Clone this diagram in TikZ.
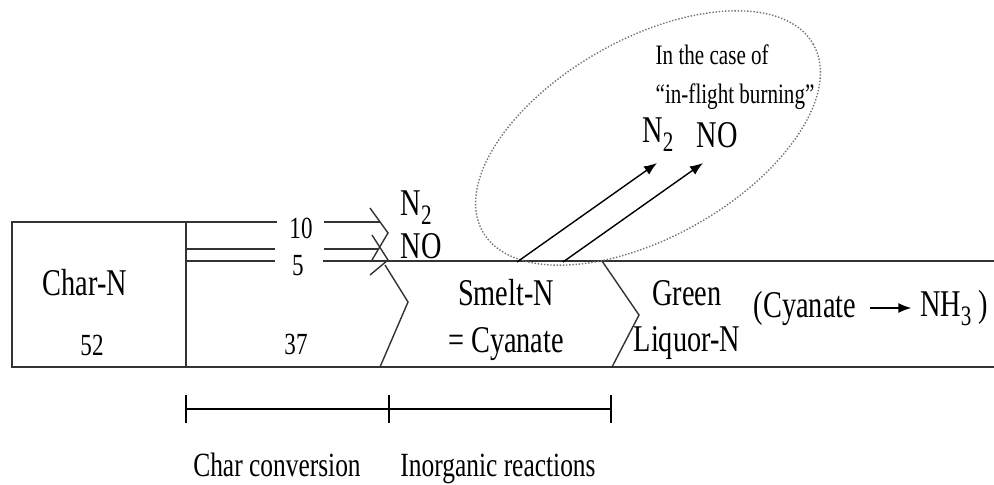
\documentclass[tikz,border=0pt]{standalone}
\usepackage{fontspec}
\setmainfont{Liberation Serif}[FakeStretch=0.75]
\usetikzlibrary{arrows.meta}

\newcommand{\bigtxt}{\fontsize{21.5}{26.6}\selectfont}
\newcommand{\numtxt}{\fontsize{17.5}{20}\selectfont}
\newcommand{\captxt}{\fontsize{16}{22.5}\selectfont}
\newcommand{\bartxt}{\fontsize{19.3}{23}\selectfont}
\newcommand{\subs}[1]{\raisebox{-5pt}{\fontsize{16}{16}\selectfont #1}}

\begin{document}
\begin{tikzpicture}[x=0.02cm,y=0.02cm,>={Latex[length=0.26cm,width=0.2cm]},
    line width=0.8pt,
    flow/.style={black!80},
    lab/.style={inner sep=0pt,font=\bigtxt,align=center},
    num/.style={inner sep=0pt,font=\numtxt}]
    \useasboundingbox (0,0) rectangle (994,484);

    % char box and band
    \draw[flow] (12,117) rectangle (186,262);
    \draw[flow] (186,117) -- (994,117);
    \draw[flow] (186,262) -- (277,262) (324,262) -- (380,262);
    \draw[flow] (186,235) -- (275,235) (324,235) -- (378,235);
    \draw[flow] (186,223) -- (275,223) (323,223) -- (994,223);

    % chevrons
    \draw[flow] (370,276) -- (388,251) -- (372,224);
    \draw[flow] (372,249) -- (388,224) -- (370,209);
    \draw[flow] (385,219) -- (408,182) -- (380,117);
    \draw[flow] (602,223) -- (639,169) -- (612,117);

    \node[lab] (charn) at (85,201) {Char-N};
    \node[num] (n52) at (92,139) {52};
    \node[num] (n10) at (301,256) {10};
    \node[num] (n5) at (298,218) {5};
    \node[num] (n37) at (296,140) {37};
    \node[lab,anchor=west] (gasn2) at (400,276) {N\subs{2}};
    \node[lab,anchor=west] (gasno) at (400,238) {NO};
    \node[lab] (smelt) at (506,164) {Smelt-N\\= Cyanate};
    \node[lab] (green) at (687,164) {Green\\Liquor-N};
    \node[lab] (cy) at (805,176) {(Cyanate};
    \node[lab] (nh) at (954,176) {NH\subs{3} )};
    \draw[->,shorten <=0.26cm,shorten >=0.16cm] (cy.east) -- (nh.west);

    % in-flight burning
    \draw[black!55,densely dotted,rotate around={29.5:(648,346)}]
        (648,346) ellipse [x radius=190,y radius=99];
    \node[inner sep=0pt,font=\captxt,align=left,anchor=west] (case)
        at (655,407) {In the case of\\“in-flight burning”};
    \node[lab] (flyn2) at (658,349) {N\subs{2}};
    \node[lab] (flyno) at (717,349) {NO};
    \coordinate (s1) at (517,222);
    \coordinate (s2) at (563,222);
    \coordinate (e1) at (657,321);
    \coordinate (e2) at (703,321);
    \draw[->] (s1) -- (e1);
    \draw[->] (s2) -- (e2);

    % stages
    \draw (186,75) -- (611,75);
    \foreach \xx in {186,389,611}
        \draw (\xx,61) -- (\xx,89);
    \node[inner sep=0pt,font=\bartxt,anchor=base] (conv) at (277,8) {Char conversion};
    \node[inner sep=0pt,font=\bartxt,anchor=base] (inorg) at (498,8) {Inorganic reactions};
\end{tikzpicture}
\end{document}
